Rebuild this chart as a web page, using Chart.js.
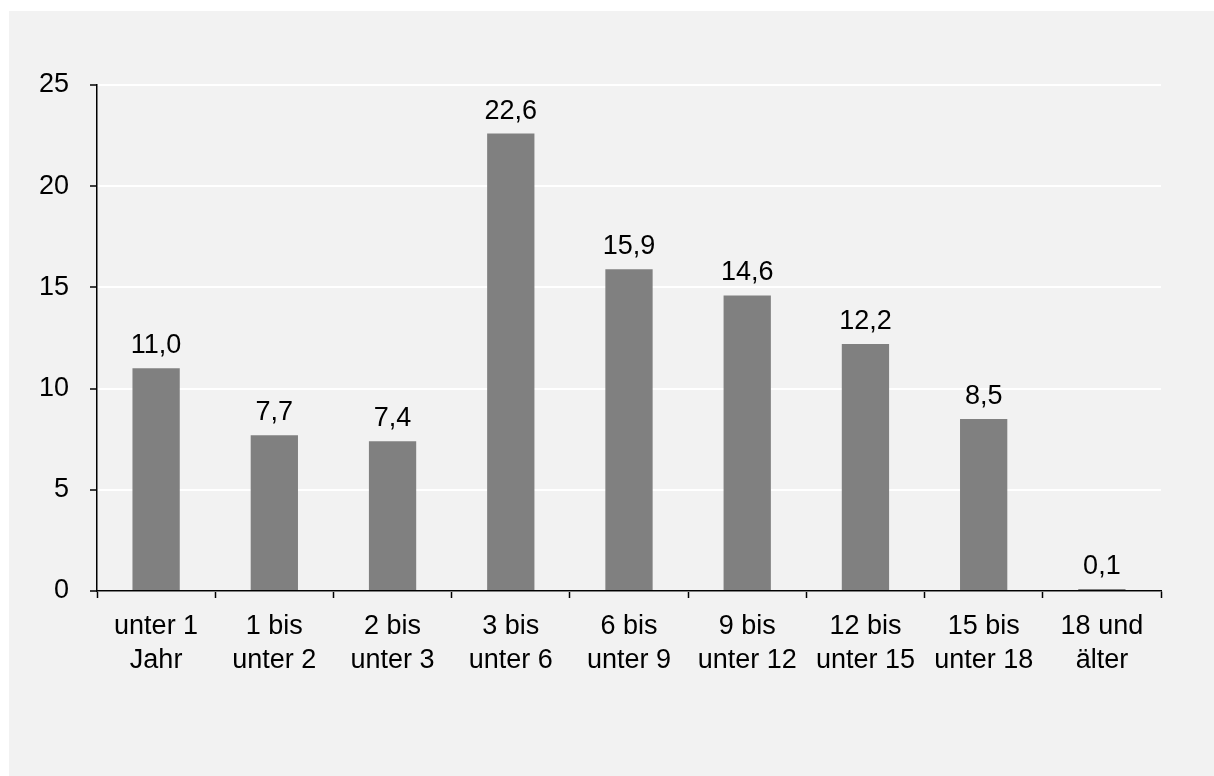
<!DOCTYPE html>
<html>
<head>
<meta charset="utf-8">
<script src="https://cdn.jsdelivr.net/npm/chart.js@4/dist/chart.umd.min.js"></script>
<style>
  html, body { margin: 0; padding: 0; background: #ffffff; }
  #panel { position: absolute; left: 9px; top: 11px; width: 1205px; height: 765px; background: #f2f2f2; }
  canvas { display: block; }
</style>
</head>
<body>
<div id="panel"><canvas id="c" width="1205" height="765"></canvas></div>
<script>
// Altersgruppen (x-Achse) und Anteile in Prozent
const categories = [
  ["unter 1", "Jahr"],
  ["1 bis", "unter 2"],
  ["2 bis", "unter 3"],
  ["3 bis", "unter 6"],
  ["6 bis", "unter 9"],
  ["9 bis", "unter 12"],
  ["12 bis", "unter 15"],
  ["15 bis", "unter 18"],
  ["18 und", "älter"]
];
const shares = [11.0, 7.7, 7.4, 22.6, 15.9, 14.6, 12.2, 8.5, 0.1];
const yTicks = [0, 5, 10, 15, 20, 25];

const FONT = "'Liberation Sans', Arial, sans-serif";
const FONT_SIZE = 27;
const fmt = v => v.toFixed(1).replace('.', ',');

// Werte über den Säulen
const valueLabels = {
  id: 'valueLabels',
  afterDatasetsDraw(chart) {
    const ctx = chart.ctx;
    const meta = chart.getDatasetMeta(0);
    ctx.save();
    ctx.font = FONT_SIZE + 'px ' + FONT;
    ctx.fillStyle = '#000';
    ctx.textAlign = 'center';
    ctx.textBaseline = 'alphabetic';
    meta.data.forEach((bar, i) => {
      ctx.fillText(fmt(shares[i]), bar.x, bar.y - 15);
    });
    ctx.restore();
  }
};

new Chart(document.getElementById('c'), {
  type: 'bar',
  data: {
    labels: categories,
    datasets: [{
      data: shares,
      backgroundColor: '#808080',
      borderWidth: 0,
      barPercentage: 0.4,
      categoryPercentage: 1.0
    }]
  },
  options: {
    responsive: false,
    animation: false,
    layout: { padding: { left: 0, right: 53, top: 74, bottom: 0 } },
    plugins: { legend: { display: false }, tooltip: { enabled: false } },
    scales: {
      x: {
        grid: { drawOnChartArea: false, tickLength: 7, tickColor: '#000', tickWidth: 1.5, offset: true },
        border: { color: '#000', width: 1.5 },
        ticks: {
          color: '#000',
          font: { family: FONT, size: FONT_SIZE, lineHeight: 1.28 },
          padding: 11,
          maxRotation: 0,
          autoSkip: false
        },
        afterFit(scale) { scale.height = 765 - 580; }
      },
      y: {
        min: 0,
        max: 25,
        afterBuildTicks(scale) { scale.ticks = yTicks.map(v => ({ value: v })); },
        grid: { color: '#ffffff', lineWidth: 2, tickLength: 7, tickColor: '#000', tickWidth: 1.5 },
        border: { color: '#000', width: 1.5 },
        ticks: {
          color: '#000',
          font: { family: FONT, size: FONT_SIZE },
          padding: 21
        },
        afterFit(scale) { scale.width = 88; }
      }
    }
  },
  plugins: [valueLabels]
});
</script>
</body>
</html>
